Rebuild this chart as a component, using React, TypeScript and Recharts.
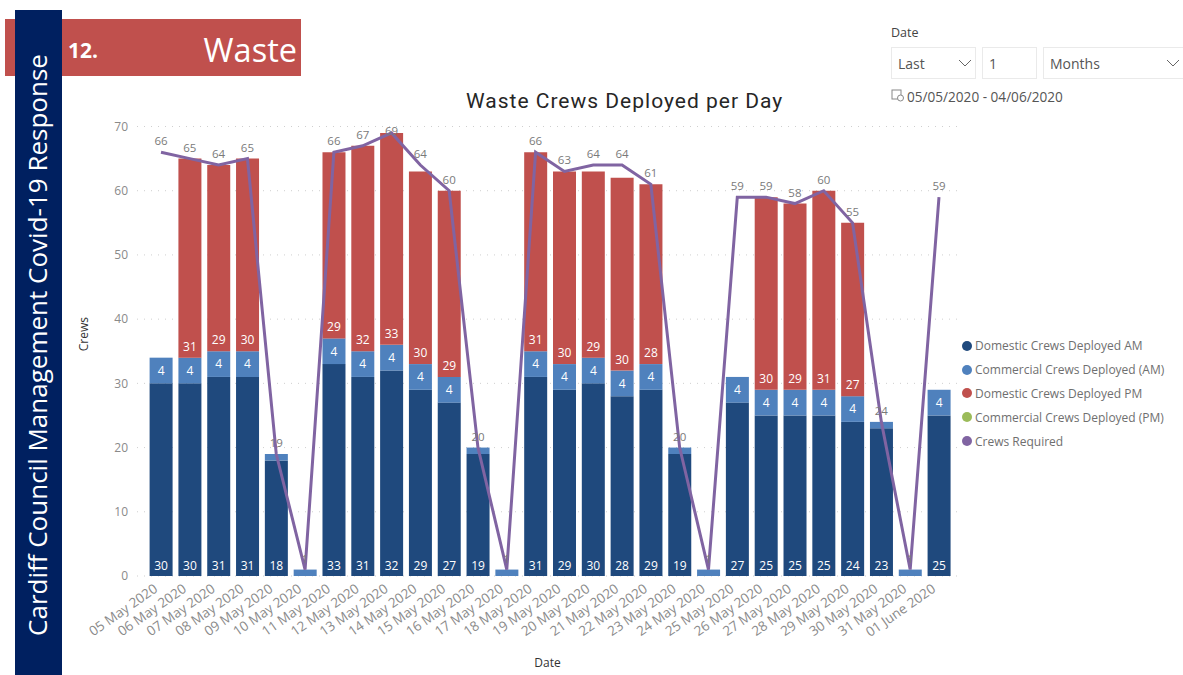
import { ComposedChart, Bar, Line, XAxis, YAxis, CartesianGrid, LabelList } from 'recharts';

const dates = ['05 May 2020', '06 May 2020', '07 May 2020', '08 May 2020', '09 May 2020', '10 May 2020', '11 May 2020', '12 May 2020', '13 May 2020', '14 May 2020', '15 May 2020', '16 May 2020', '17 May 2020', '18 May 2020', '19 May 2020', '20 May 2020', '21 May 2020', '22 May 2020', '23 May 2020', '24 May 2020', '25 May 2020', '26 May 2020', '27 May 2020', '28 May 2020', '29 May 2020', '30 May 2020', '31 May 2020', '01 June 2020'];
const domesticAm = [30, 30, 31, 31, 18, 0, 33, 31, 32, 29, 27, 19, 0, 31, 29, 30, 28, 29, 19, 0, 27, 25, 25, 25, 24, 23, 0, 25];
const commercialAm = [4, 4, 4, 4, 1, 1, 4, 4, 4, 4, 4, 1, 1, 4, 4, 4, 4, 4, 1, 1, 4, 4, 4, 4, 4, 1, 1, 4];
const domesticPm = [null, 31, 29, 30, null, null, 29, 32, 33, 30, 29, null, null, 31, 30, 29, 30, 28, null, null, null, 30, 29, 31, 27, null, null, null];
const commercialPm = dates.map(() => null as number | null);
const crewsRequired = [66, 65, 64, 65, 19, 1, 66, 67, 69, 64, 60, 20, 1, 66, 63, 64, 64, 61, 20, 1, 59, 59, 58, 60, 55, 24, 1, 59];
const yTicks = [0, 10, 20, 30, 40, 50, 60, 70];

const legendItems = [
  { name: 'Domestic Crews Deployed AM', color: '#1F497D' },
  { name: 'Commercial Crews Deployed (AM)', color: '#4F81BD' },
  { name: 'Domestic Crews Deployed PM', color: '#C0504D' },
  { name: 'Commercial Crews Deployed (PM)', color: '#9BBB59' },
  { name: 'Crews Required', color: '#8064A2' },
];

const chartData = dates.map((date, i) => ({
  date,
  domesticAm: domesticAm[i],
  commercialAm: commercialAm[i],
  domesticPm: domesticPm[i],
  commercialPm: commercialPm[i],
  crewsRequired: crewsRequired[i],
}));

const FONT = '"Open Sans", sans-serif';
const hideSmall = (v: unknown) => (Number(v) > 1 ? String(v) : '');

// labels above the line, pushed down when they would leave the plot (the 69)
function RequiredLabel({ x, y, value }: { x?: number; y?: number; value?: number }) {
  return (
    <text x={x} y={Math.max(Number(y) - 7, 135)} textAnchor="middle" fontSize={11.5} fill="#7a7a7a">{value}</text>
  );
}

function ChartLegend() {
  return (
    <div style={{ position: 'absolute', left: 962, top: 334, fontSize: 12, color: '#6f6f6f' }}>
      {legendItems.map(item => (
        <div key={item.name} style={{ display: 'flex', alignItems: 'center', height: 23.8, whiteSpace: 'nowrap' }}>
          <span style={{ width: 10, height: 10, borderRadius: '50%', background: item.color, marginRight: 3 }} />
          {item.name}
        </div>
      ))}
    </div>
  );
}

function Chevron({ x }: { x: number }) {
  return (
    <svg width="14" height="8" style={{ position: 'absolute', left: x, top: 59 }}>
      <path d="M1 1 L7 7 L13 1" fill="none" stroke="#666" strokeWidth="1" />
    </svg>
  );
}

const boxStyle = { position: 'absolute', top: 47, height: 32, border: '1px solid #eaeaea', fontSize: 14, color: '#555', lineHeight: '32px', paddingLeft: 6, boxSizing: 'border-box' } as const;

export default function App() {
  return (
    <div style={{ position: 'absolute', left: 0, top: 0, width: 1183, height: 675, overflow: 'hidden', background: '#fff', fontFamily: FONT }}>
      <div style={{ position: 'absolute', left: 5, top: 19, width: 296, height: 57, background: '#C0504D' }} />
      <div style={{ position: 'absolute', left: 68, top: 37, color: '#fff', fontWeight: 700, fontSize: 21, lineHeight: '26px' }}>12.</div>
      <div style={{ position: 'absolute', right: 886, top: 29, color: '#fff', fontSize: 32.5, lineHeight: '42px' }}>Waste</div>
      <div style={{ position: 'absolute', left: 15, top: 10, width: 47, height: 665, background: '#002060' }} />
      <div style={{ position: 'absolute', left: 37, top: 345, color: '#fff', fontSize: 26, whiteSpace: 'nowrap', transform: 'translate(-50%, -50%) rotate(-90deg)' }}>
        Cardiff Council Management Covid-19 Response
      </div>

      <ComposedChart width={1183} height={675} data={chartData} margin={{ top: 126.5, right: 225, bottom: 0, left: 70 }} style={{ position: 'absolute', left: 0, top: 0 }}>
        <CartesianGrid vertical={false} stroke="#cfcfcf" strokeDasharray="1 6" />
        <XAxis
          dataKey="date"
          interval={0}
          height={99}
          angle={-35}
          textAnchor="end"
          padding={{ left: 9.6, right: 4.6 }}
          axisLine={false}
          tickLine={false}
          tick={{ fontSize: 13.5, fill: '#8a8a8a', fontFamily: FONT, dx: -8, dy: -1 }}
          label={{ value: 'Date', position: 'insideBottom', offset: 8, fontSize: 12, fill: '#333', fontFamily: FONT }}
        />
        <YAxis
          width={67}
          domain={[0, 70]}
          ticks={yTicks}
          axisLine={false}
          tickLine={false}
          tickMargin={3}
          tick={{ fontSize: 12, fill: '#8a8a8a', fontFamily: FONT }}
          label={{ value: 'Crews', angle: -90, position: 'insideLeft', offset: 14, fontSize: 12, fill: '#333', fontFamily: FONT }}
        />
        <Bar dataKey="domesticAm" name={legendItems[0].name} stackId="crews" fill={legendItems[0].color} barSize={23} isAnimationActive={false}>
          <LabelList dataKey="domesticAm" position="insideBottom" offset={6} fill="#fff" fontSize={12} formatter={hideSmall} />
        </Bar>
        <Bar dataKey="commercialAm" name={legendItems[1].name} stackId="crews" fill={legendItems[1].color} barSize={23} isAnimationActive={false}>
          <LabelList dataKey="commercialAm" position="center" fill="#fff" fontSize={12} formatter={hideSmall} />
        </Bar>
        <Bar dataKey="domesticPm" name={legendItems[2].name} stackId="crews" fill={legendItems[2].color} barSize={23} isAnimationActive={false}>
          <LabelList dataKey="domesticPm" position="insideBottom" offset={7} fill="#fff" fontSize={12} />
        </Bar>
        <Bar dataKey="commercialPm" name={legendItems[3].name} stackId="crews" fill={legendItems[3].color} barSize={23} isAnimationActive={false} />
        {/* labels go on an invisible copy so the purple line is painted over them */}
        <Line dataKey="crewsRequired" legendType="none" stroke="none" dot={false} isAnimationActive={false}>
          <LabelList dataKey="crewsRequired" content={<RequiredLabel />} />
        </Line>
        <Line dataKey="crewsRequired" name={legendItems[4].name} stroke={legendItems[4].color} strokeWidth={3} dot={false} type="linear" isAnimationActive={false} />
      </ComposedChart>

      <ChartLegend />

      <div style={{ position: 'absolute', left: 466, top: 86, fontFamily: 'Roboto, sans-serif', fontSize: 21, letterSpacing: 1, color: '#262626', lineHeight: '30px', whiteSpace: 'nowrap' }}>
        Waste Crews Deployed per Day
      </div>

      <div style={{ position: 'absolute', left: 891, top: 24, fontSize: 12.5, color: '#444' }}>Date</div>
      <div style={{ ...boxStyle, left: 891, width: 85 }}>Last</div>
      <Chevron x={958} />
      <div style={{ ...boxStyle, left: 982, width: 55 }}>1</div>
      <div style={{ ...boxStyle, left: 1043, width: 145 }}>Months</div>
      <Chevron x={1166} />
      <svg width="14" height="14" style={{ position: 'absolute', left: 891, top: 88 }}>
        <rect x="1" y="2" width="9" height="9" fill="none" stroke="#888" />
        <circle cx="9.5" cy="10" r="3" fill="#fff" stroke="#888" />
      </svg>
      <div style={{ position: 'absolute', left: 907, top: 87, fontSize: 13.6, color: '#555', whiteSpace: 'nowrap' }}>05/05/2020 - 04/06/2020</div>
    </div>
  );
}
